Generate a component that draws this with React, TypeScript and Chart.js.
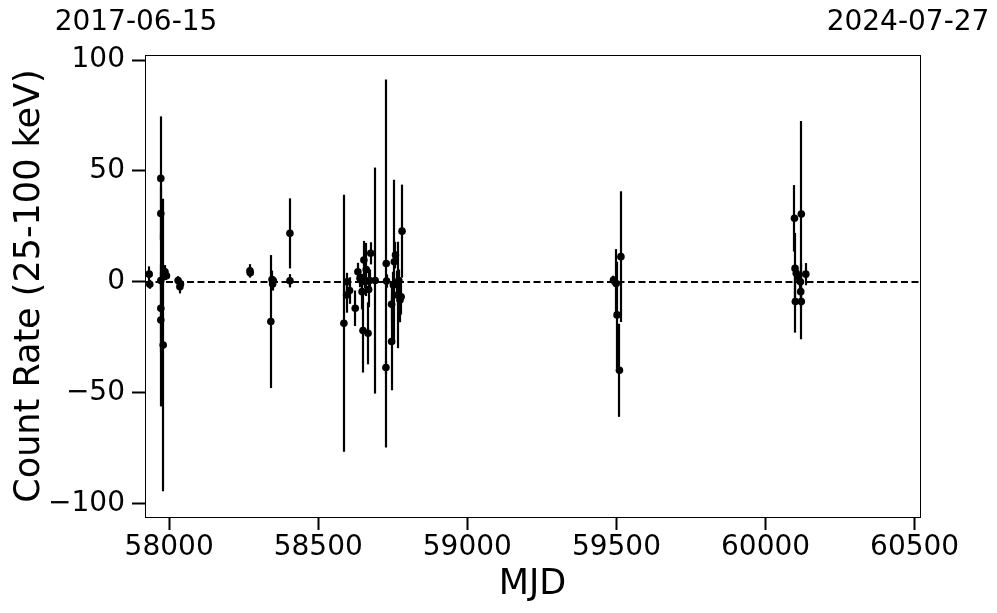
import React, { useEffect, useRef } from "react";
import { Chart, registerables } from "chart.js";

Chart.register(...registerables);

// Observation epochs (MJD)
const mjd = [
  57933, 57935, 57972, 57972, 57972, 57972, 57972, 57980, 57982, 57986, 57991, 58030, 58036, 58038,
  58271, 58272, 58341, 58345, 58347, 58349, 58405, 58405,
  58586, 58595, 58597, 58605, 58624, 58633, 58640, 58647, 58650, 58653, 58657, 58661, 58667, 58669, 58672, 58676, 58691,
  58728, 58729, 58727, 58746, 58746, 58752, 58755, 58759, 58763, 58766, 58770, 58774, 58778, 58781,
  59490, 59499, 59502, 59510, 59515,
  60097, 60099, 60100, 60103, 60109, 60117, 60118, 60120, 60120, 60135,
];

// Count rate (25-100 keV)
const rate = [
  3.4, -1.2, 46.6, 30.8, 0.5, -12, -17.3, -28.6, 3.7, 4.5, 2.7, 0.5, -2.3, -1,
  4.9, 4, -18, 1, -1, 0.5, 21.8, 0.4,
  -18.8, -6, 0, -4, -12, 4.5, 1.5, -4.5, -22, 9.8, 0, 5.5, -23.3, -3.5, 0.5, 12.8, 0.5,
  8.2, 0.3, -38.7, -10.2, -27, -1.5, 9, 12, -1, -6, 0.5, -8.3, -6.8, 22.8,
  0.7, -0.8, -15, -40, 11.3,
  28.6, 6, -9, 3.8, 2, 0, -4.5, 30.5, -9, 3.4,
];

// 1-sigma uncertainties
const rateErr = [
  3.5, 2, 28, 12, 4, 20, 39, 66, 3, 3, 2, 2, 3, 2,
  3, 2, 30, 4, 3, 2, 15.8, 3,
  58, 8, 4, 6, 8, 4, 4, 8, 19, 8.6, 3, 12, 14, 8, 5, 5, 51,
  83, 3, 3, 8, 22, 6, 37, 6, 6, 24, 5, 10, 8, 21,
  2, 15.5, 24, 21, 29.5,
  15, 16, 14, 3, 3, 3, 4, 42, 17, 5,
];

const xTicks = [58000, 58500, 59000, 59500, 60000, 60500];
const yTicks = [-100, -50, 0, 50, 100];
const xRange = [57919, 60518];
const yRange = [-106.2, 102.3];
const topDates = ["2017-06-15", "2024-07-27"];

const FONT = "'DejaVu Sans', sans-serif";

const fmt = (v: number) => (v < 0 ? "\u2212" + Math.abs(v) : String(v));

const errorBarPlugin = {
  id: "errorBars",
  beforeDatasetsDraw(chart: any) {
    const { ctx, chartArea, scales } = chart;
    const xs = scales.x;
    const ys = scales.y;
    ctx.save();
    ctx.beginPath();
    ctx.rect(chartArea.left, chartArea.top, chartArea.right - chartArea.left, chartArea.bottom - chartArea.top);
    ctx.clip();
    // zero line
    ctx.strokeStyle = "#000";
    ctx.lineWidth = 2;
    ctx.setLineDash([7, 3.5]);
    const y0 = Math.round(ys.getPixelForValue(0));
    ctx.beginPath();
    ctx.moveTo(chartArea.left, y0);
    ctx.lineTo(chartArea.right, y0);
    ctx.stroke();
    ctx.setLineDash([]);
    // error bars
    ctx.lineWidth = 2.2;
    for (let i = 0; i < mjd.length; i++) {
      const px = Math.round(xs.getPixelForValue(mjd[i]));
      const top = ys.getPixelForValue(rate[i] + rateErr[i]);
      const bot = ys.getPixelForValue(rate[i] - rateErr[i]);
      ctx.beginPath();
      ctx.moveTo(px, top);
      ctx.lineTo(px, bot);
      ctx.stroke();
    }
    ctx.restore();
  },
  afterDraw(chart: any) {
    const { ctx, chartArea, scales } = chart;
    ctx.save();
    ctx.strokeStyle = "#000";
    ctx.lineWidth = 1;
    ctx.strokeRect(
      Math.round(chartArea.left) + 0.5,
      Math.round(chartArea.top) + 0.5,
      Math.round(chartArea.right - chartArea.left),
      Math.round(chartArea.bottom - chartArea.top)
    );
    ctx.fillStyle = "#000";
    ctx.font = `28px ${FONT}`;
    ctx.textAlign = "center";
    ctx.textBaseline = "middle";
    const xl = scales.x.getPixelForValue(xRange[0]) - 9;
    const xr = scales.x.getPixelForValue(xRange[1]) - 12;
    ctx.fillText(topDates[0], xl, 23);
    ctx.fillText(topDates[1], xr, 23);
    ctx.restore();
  },
};

export default function App() {
  const ref = useRef<HTMLCanvasElement>(null);
  useEffect(() => {
    if (!ref.current) return;
    const chart = new Chart(ref.current, {
      type: "scatter",
      data: {
        datasets: [
          {
            data: mjd.map((x, i) => ({ x, y: rate[i] })),
            pointRadius: 3.8,
            pointHoverRadius: 3.8,
            backgroundColor: "#000",
            borderColor: "#000",
            borderWidth: 0,
          },
        ],
      },
      options: {
        animation: false,
        responsive: false,
        events: [],
        layout: { padding: { top: 55, right: 77, left: 0, bottom: 0 } },
        plugins: { legend: { display: false }, tooltip: { enabled: false } },
        scales: {
          x: {
            type: "linear",
            min: xRange[0],
            max: xRange[1],
            afterBuildTicks: (s: any) => {
              s.ticks = xTicks.map((v) => ({ value: v }));
            },
            afterFit: (s: any) => {
              s.height = 96;
            },
            grid: {
              display: true,
              drawOnChartArea: false,
              drawTicks: true,
              tickLength: 13,
              tickWidth: 2,
              tickColor: "#000",
            },
            border: { display: false },
            ticks: {
              color: "#000",
              font: { family: FONT, size: 28 },
              padding: 1,
              maxRotation: 0,
              autoSkip: false,
              callback: (v: any) => String(v),
            },
            title: {
              display: true,
              text: "MJD",
              color: "#000",
              font: { family: FONT, size: 35 },
              padding: { top: 0, bottom: 7 },
            },
          },
          y: {
            type: "linear",
            min: yRange[0],
            max: yRange[1],
            afterBuildTicks: (s: any) => {
              s.ticks = yTicks.map((v) => ({ value: v }));
            },
            afterFit: (s: any) => {
              s.width = 145;
            },
            grid: {
              display: true,
              drawOnChartArea: false,
              drawTicks: true,
              tickLength: 13,
              tickWidth: 2,
              tickColor: "#000",
            },
            border: { display: false },
            ticks: {
              color: "#000",
              font: { family: FONT, size: 28 },
              padding: 7,
              autoSkip: false,
              callback: (v: any) => fmt(Number(v)),
            },
            title: {
              display: true,
              text: "Count Rate (25-100 keV)",
              color: "#000",
              font: { family: FONT, size: 35 },
              padding: { top: 9, bottom: 0 },
            },
          },
        },
      },
      plugins: [errorBarPlugin],
    });
    return () => chart.destroy();
  }, []);
  return (
    <div style={{ position: "fixed", left: 0, top: 0, width: 997, height: 613, background: "#fff" }}>
      <canvas ref={ref} width={997} height={613} />
    </div>
  );
}
